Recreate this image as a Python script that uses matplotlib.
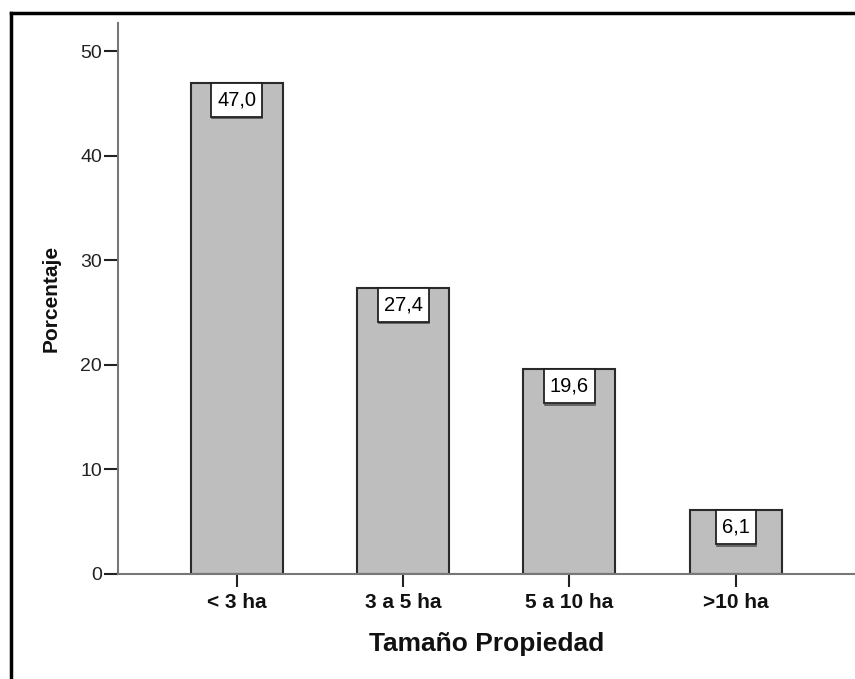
import matplotlib
matplotlib.use('Agg')
import matplotlib.pyplot as plt
from matplotlib.lines import Line2D
from matplotlib.patches import Rectangle
from matplotlib.transforms import IdentityTransform

plt.rcParams['font.family'] = ['Liberation Sans', 'DejaVu Sans']

categories = ['< 3 ha', '3 a 5 ha', '5 a 10 ha', '>10 ha']
percentages = [47.0, 27.4, 19.6, 6.1]
value_labels = ['47,0', '27,4', '19,6', '6,1']
yticks = [0, 10, 20, 30, 40, 50]

fig = plt.figure(figsize=(8.55, 6.79), dpi=100)
ax = fig.add_axes([118 / 855, 105 / 679, (855 - 118) / 855, (656 - 105) / 679])

x = range(len(categories))
ax.bar(x, percentages, width=0.553, color='#bebebe', edgecolor='#2a2a2a', linewidth=1.5)

ax.set_xlim(-0.713, 3.716)
ax.set_ylim(0, 52.7)
ax.set_yticks(yticks)
ax.set_xticks(list(x))
ax.set_xticklabels(categories, fontsize=15, fontweight='bold')
ax.tick_params(axis='y', labelsize=14, length=10, width=1.5, pad=1.5, color='#222222', labelcolor='#222222')
ax.tick_params(axis='x', length=9, width=1.5, pad=5, color='#222222', labelcolor='#111111')

for s in ['top', 'right']:
    ax.spines[s].set_visible(False)
for s in ['left', 'bottom']:
    ax.spines[s].set_color('#777777')
    ax.spines[s].set_linewidth(1.5)

ax.set_xlabel('Tamaño Propiedad', fontsize=19, fontweight='bold', labelpad=14, color='#111111')
ax.set_ylabel('Porcentaje', fontsize=15, fontweight='bold', labelpad=14, color='#111111')

# value boxes: white label box hanging from the top of each bar
box_h = 34   # px
box_padx = 6  # px
fig.canvas.draw()
renderer = fig.canvas.get_renderer()
for xi, val, lab in zip(x, percentages, value_labels):
    px, py = ax.transData.transform((xi, val))
    t = ax.text(px, py - box_h / 2, lab, transform=IdentityTransform(), ha='center', va='center',
                fontsize=14.5, color='black', zorder=5)
    ext = t.get_window_extent(renderer)
    w = ext.width + 2 * box_padx
    ax.add_patch(Rectangle((px - w / 2, py - box_h), w, box_h, transform=IdentityTransform(),
                           facecolor='white', edgecolor='#222222', linewidth=1.3, zorder=4))
    # slight shadow line under the box
    ax.add_line(Line2D([px - w / 2 + 1, px + w / 2], [py - box_h - 1.5, py - box_h - 1.5],
                       transform=IdentityTransform(), color='#555555', linewidth=1.2, zorder=3.9))

# outer frame (left and top only, rest is cut off in the original)
fig.add_artist(Line2D([11 / 855, 11 / 855], [0, 1 - 13 / 679], color='black', linewidth=2.5, transform=fig.transFigure))
fig.add_artist(Line2D([11 / 855, 1], [1 - 13 / 679, 1 - 13 / 679], color='black', linewidth=2.5, transform=fig.transFigure))

fig.savefig('out.png', dpi=100)
